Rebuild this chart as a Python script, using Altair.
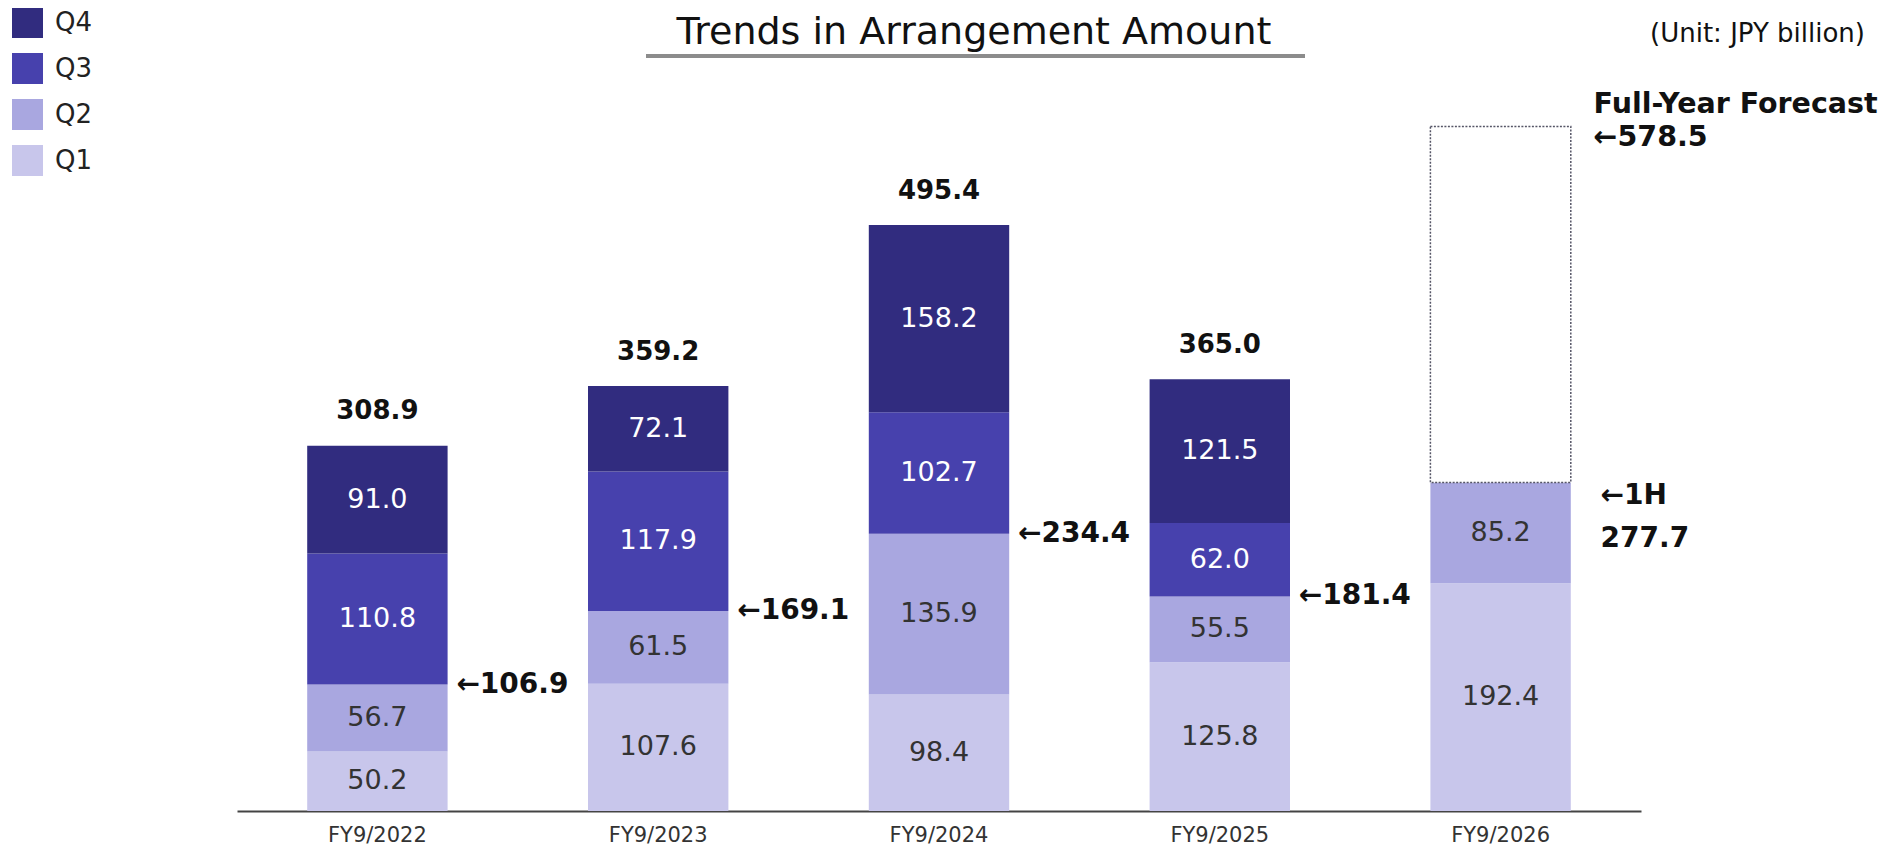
import altair as alt
import pandas as pd

# ---------------- data ----------------
years = ["FY9/2022", "FY9/2023", "FY9/2024", "FY9/2025", "FY9/2026"]
quarters = ["Q1", "Q2", "Q3", "Q4"]
q1 = [50.2, 107.6, 98.4, 125.8, 192.4]
q2 = [56.7, 61.5, 135.9, 55.5, 85.2]
q3 = [110.8, 117.9, 102.7, 62.0, None]
q4 = [91.0, 72.1, 158.2, 121.5, None]

total_years = ["FY9/2022", "FY9/2023", "FY9/2024", "FY9/2025"]
totals = [308.9, 359.2, 495.4, 365.0]
half_totals = [106.9, 169.1, 234.4, 181.4]

forecast_year = "FY9/2026"
h1_total = 277.7
forecast_total = 578.5

legend_order = ["Q4", "Q3", "Q2", "Q1"]
colors = ["#312C7F", "#4741AD", "#A9A7E0", "#C8C6EB"]

# ---------------- tables ----------------
rows = []
for i, yr in enumerate(years):
    base = 0.0
    for q, vals in zip(quarters, [q1, q2, q3, q4]):
        v = vals[i]
        if v is None:
            continue
        rows.append(dict(year=yr, q=q, start=base, end=base + v,
                         mid=base + v / 2, label=f"{v:.1f}"))
        base += v
seg = pd.DataFrame(rows)

tot = pd.DataFrame(dict(year=total_years, total=totals,
                        label=[f"{t:.1f}" for t in totals]))
half = pd.DataFrame(dict(year=total_years, half=half_totals,
                         label=["\u2190" + f"{h:.1f}" for h in half_totals]))
fc = pd.DataFrame(dict(year=[forecast_year], start=[h1_total], end=[forecast_total],
                       h1label=["\u21901H\n" + f"{h1_total:.1f}"],
                       fclabel=["Full-Year Forecast\n\u2190" + f"{forecast_total:.1f}"]))

FONT = "DejaVu Sans"

x_enc = alt.X("year:N",
              scale=alt.Scale(domain=years, paddingInner=0.5, paddingOuter=0.25),
              axis=alt.Axis(title=None, labelAngle=0, ticks=False, domain=True,
                            domainColor="#444444", domainWidth=2,
                            labelFont=FONT, labelFontSize=21, labelColor="#333333",
                            labelPadding=13))
y_scale = alt.Scale(domain=[0, 600], nice=False, zero=True)

bars = alt.Chart(seg).mark_bar().encode(
    x=x_enc,
    y=alt.Y("start:Q", scale=y_scale, axis=None),
    y2="end:Q",
    color=alt.Color("q:N",
                    scale=alt.Scale(domain=legend_order, range=colors),
                    legend=alt.Legend(title=None, orient="none", legendX=-225, legendY=-94,
                                      padding=0, symbolType="square", symbolSize=961,
                                      symbolStrokeWidth=0, labelFont=FONT,
                                      labelFontSize=26, labelColor="#222222",
                                      labelOffset=12, rowPadding=15)),
)

inner = alt.Chart(seg).mark_text(font=FONT, fontSize=27, baseline="middle").encode(
    x="year:N",
    y=alt.Y("mid:Q", scale=y_scale),
    text="label:N",
    color=alt.condition(alt.FieldOneOfPredicate(field="q", oneOf=["Q3", "Q4"]),
                        alt.value("#FFFFFF"), alt.value("#333333")),
)

tot_text = alt.Chart(tot).mark_text(font=FONT, fontSize=26, fontWeight="bold",
                                    baseline="alphabetic", dy=-26, color="#111111").encode(
    x="year:N", y=alt.Y("total:Q", scale=y_scale), text="label:N")

half_text = alt.Chart(half).mark_text(font=FONT, fontSize=28, fontWeight="bold",
                                      align="left", baseline="middle", dx=79,
                                      color="#111111").encode(
    x="year:N", y=alt.Y("half:Q", scale=y_scale), text="label:N")

box = alt.Chart(fc).mark_bar(fill="white", stroke="#555566", strokeDash=[2, 1.5],
                             strokeWidth=1.5).encode(
    x="year:N", y=alt.Y("start:Q", scale=y_scale), y2="end:Q")

h1_text = alt.Chart(fc).mark_text(font=FONT, fontSize=28, fontWeight="bold",
                                  align="left", baseline="top", dx=100,
                                  lineBreak="\n", lineHeight=43, color="#111111").encode(
    x="year:N", y=alt.Y("start:Q", scale=y_scale), text="h1label:N")

fc_text = alt.Chart(fc).mark_text(font=FONT, fontSize=28.5, fontWeight="bold",
                                  align="left", baseline="top", dx=93, dy=-36,
                                  lineBreak="\n", lineHeight=33, color="#111111").encode(
    x="year:N", y=alt.Y("end:Q", scale=y_scale), text="fclabel:N")

# title, underline and unit note (annotations)
title = alt.Chart(pd.DataFrame({"t": ["Trends in Arrangement Amount"]})).mark_text(
    font=FONT, fontSize=38, align="center",
    baseline="alphabetic", color="#111111").encode(
    x=alt.value(737), y=alt.value(-57), text="t:N")

underline = alt.Chart(pd.DataFrame({"a": [0]})).mark_rule(
    color="#8C8C8C", strokeWidth=4).encode(
    x=alt.value(409), x2=alt.value(1068), y=alt.value(-45))

unit = alt.Chart(pd.DataFrame({"t": ["(Unit: JPY billion)"]})).mark_text(
    font=FONT, fontSize=26, align="right", baseline="middle", color="#111111").encode(
    x=alt.value(1628), y=alt.value(-67), text="t:N")

chart = alt.layer(
    bars, inner, box, tot_text, half_text, h1_text, fc_text, title, underline, unit
).properties(
    width=1404, height=710,
    background="white",
    autosize=alt.AutoSizeParams(type="none"),
    padding={"left": 229, "top": 93, "right": 250, "bottom": 40},
).configure_view(stroke=None, strokeWidth=0)

chart.save("out.html", embed_options={"renderer": "svg", "actions": False})
